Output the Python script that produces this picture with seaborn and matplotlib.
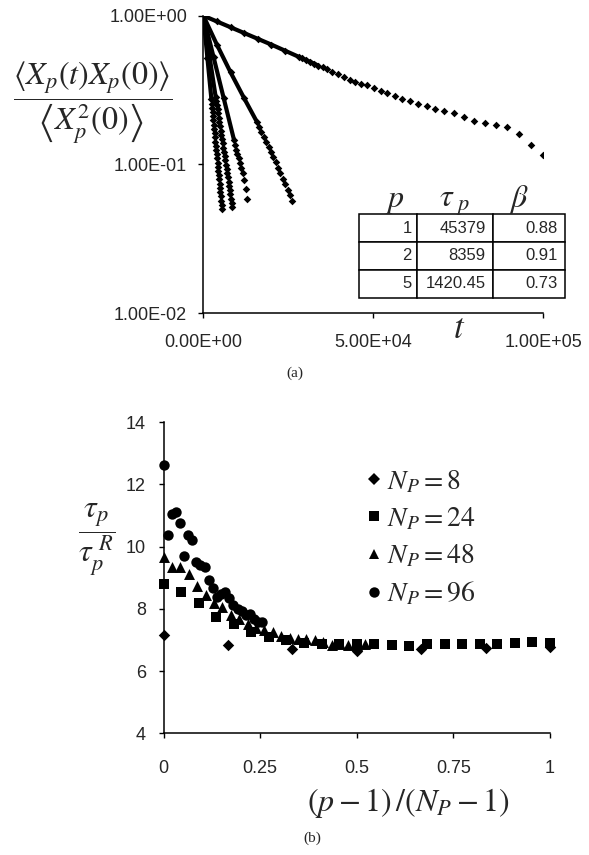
import numpy as np
import pandas as pd
import matplotlib
matplotlib.use("Agg")
import matplotlib.pyplot as plt
from matplotlib.lines import Line2D
import seaborn as sns

# ---------------- panel (a): normalised mode autocorrelation vs time ----------------
# mode p = 1
mode1_t = [0, 4000, 8000, 12000, 16000, 20000, 24000, 28000, 29100, 30200, 31400,
           32600, 33800, 35100, 36400, 37800, 39500, 41300, 43100, 44600, 46300,
           48100, 50200, 52200, 54100, 56400, 58500, 60800, 63200, 65700, 68100,
           70800, 73700, 76600, 79600, 82800, 86100, 89400, 92900, 96500, 100000]
mode1_c = [1.000, 0.9146, 0.8364, 0.7649, 0.6995, 0.6397, 0.5824, 0.5302, 0.5166,
           0.5035, 0.4895, 0.4759, 0.4626, 0.4487, 0.4352, 0.4211, 0.4047, 0.389,
           0.370, 0.358, 0.348, 0.340, 0.325, 0.312, 0.301, 0.288, 0.277, 0.266,
           0.256, 0.246, 0.237, 0.229, 0.222, 0.209, 0.197, 0.189, 0.183, 0.179,
           0.160, 0.135, 0.115]
# mode p = 2
mode2_t = [0, 4000, 8000, 12000, 15700, 16400, 17100, 17800, 18500, 19200, 19900,
           20600, 21300, 22000, 22700, 23400, 24100, 24800, 25400, 26000]
mode2_c = [1.000, 0.638, 0.417, 0.279, 0.1945, 0.1795, 0.1656, 0.1524, 0.1413,
           0.1309, 0.1222, 0.1127, 0.1033, 0.0951, 0.0875, 0.0805, 0.0741, 0.0676,
           0.0624, 0.0571]
# mode p = 3
mode3_t = [0, 3000, 6000, 9000, 9400, 9750, 10050, 10350, 10700, 11150, 11600,
           12000, 12450, 12900]
mode3_c = [1.000, 0.528, 0.2786, 0.1471, 0.1349, 0.1253, 0.1175, 0.1102, 0.1023,
           0.0946, 0.0877, 0.0787, 0.0685, 0.0586]
# mode p = 4
mode4_t = [0, 1800, 3610, 3800, 3990, 4180, 4370, 4560, 4750, 4940, 5130, 5320,
           5510, 5700, 5890, 6080, 6270, 6460, 6650, 6840, 7030, 7220, 7410, 7600,
           7790, 7980, 8170, 8360, 8550]
mode4_c = [1.000, 0.536, 0.2864, 0.2683, 0.2511, 0.2351, 0.2202, 0.2061, 0.1930,
           0.1807, 0.1692, 0.1584, 0.1483, 0.1389, 0.1300, 0.1217, 0.1140, 0.1067,
           0.0999, 0.0936, 0.0876, 0.0820, 0.0768, 0.0719, 0.0673, 0.0630, 0.0590,
           0.0553, 0.0518]
# mode p = 5
mode5_t = [0, 1200, 2380, 2500, 2620, 2740, 2860, 2980, 3100, 3220, 3340, 3460,
           3580, 3700, 3820, 3940, 4060, 4180, 4300, 4420, 4540, 4660, 4780, 4900,
           5020, 5140, 5260, 5380, 5500]
mode5_c = [1.000, 0.521, 0.2741, 0.2567, 0.2405, 0.2253, 0.2111, 0.1977, 0.1852,
           0.1735, 0.1626, 0.1523, 0.1427, 0.1337, 0.1252, 0.1173, 0.1099, 0.1030,
           0.0965, 0.0904, 0.0847, 0.0793, 0.0743, 0.0696, 0.0652, 0.0611, 0.0572,
           0.0536, 0.0502]
# early times are sampled so densely that the points merge into a band
dense_until = {1: 33800, 2: 15700, 3: 9000, 4: 3610, 5: 2380}

a_xticks = [0, 50000, 100000]
a_xticklabels = ["0.00E+00", "5.00E+04", "1.00E+05"]
a_yticks = [0.01, 0.1, 1.0]
a_yticklabels = ["1.00E-02", "1.00E-01", "1.00E+00"]

fit_p = ["1", "2", "5"]
fit_tau = ["45379", "8359", "1420.45"]
fit_beta = ["0.88", "0.91", "0.73"]

# ---------------- panel (b): scaled relaxation times ----------------
x_np8 = [0.0, 0.1667, 0.3333, 0.5, 0.6667, 0.8333, 1.0]
y_np8 = [7.15, 6.83, 6.70, 6.64, 6.70, 6.73, 6.77]
x_np24 = [0.0, 0.0455, 0.0909, 0.1364, 0.1818, 0.2273, 0.2727, 0.3182, 0.3636,
          0.4091, 0.4545, 0.5, 0.5455, 0.5909, 0.6364, 0.6818, 0.7273, 0.7727,
          0.8182, 0.8636, 0.9091, 0.9545, 1.0]
y_np24 = [8.81, 8.54, 8.19, 7.74, 7.52, 7.25, 7.09, 6.99, 6.91, 6.88, 6.86, 6.88,
          6.87, 6.83, 6.81, 6.86, 6.86, 6.88, 6.88, 6.86, 6.89, 6.93, 6.91]
x_np48 = [0.0, 0.0217, 0.0435, 0.0652, 0.0870, 0.1087, 0.1304, 0.1522, 0.1739,
          0.1957, 0.2174, 0.2391, 0.2609, 0.2826, 0.3043, 0.3261, 0.3478, 0.3696,
          0.3913, 0.4130, 0.4348, 0.4565, 0.4783, 0.5, 0.5217]
y_np48 = [9.68, 9.36, 9.36, 9.13, 8.72, 8.46, 8.19, 8.05, 7.82, 7.66, 7.50, 7.39,
          7.31, 7.25, 7.12, 7.07, 7.04, 7.02, 7.00, 6.93, 6.83, 6.86, 6.83, 6.83, 6.86]
x_np96 = [0.0, 0.0106, 0.0213, 0.0319, 0.0426, 0.0532, 0.0638, 0.0745, 0.0851,
          0.0957, 0.1064, 0.1170, 0.1277, 0.1383, 0.1489, 0.1596, 0.1702, 0.1809,
          0.1915, 0.2021, 0.2128, 0.2234, 0.2340, 0.2447, 0.2553]
y_np96 = [12.61, 10.37, 11.04, 11.12, 10.77, 9.70, 10.37, 10.21, 9.49, 9.42, 9.36,
          8.94, 8.67, 8.38, 8.48, 8.53, 8.34, 8.13, 8.00, 7.92, 7.82, 7.84, 7.66,
          7.59, 7.57]

b_xticks = [0, 0.25, 0.5, 0.75, 1.0]
b_xticklabels = ["0", "0.25", "0.5", "0.75", "1"]
b_yticks = [4, 6, 8, 10, 12, 14]

# ---------------------------------------------------------------------------
sns.set_style("ticks")
plt.rcParams["font.family"] = ["Liberation Sans", "DejaVu Sans"]
plt.rcParams["mathtext.fontset"] = "stix"

fig = plt.figure(figsize=(5.89, 8.55), dpi=100)
ax_a = fig.add_axes([0.3452, 0.63357, 0.5772, 0.34807])
ax_b = fig.add_axes([0.2776, 0.14211, 0.6562, 0.36432])

# ---- panel (a)
modes = {1: (mode1_t, mode1_c), 2: (mode2_t, mode2_c), 3: (mode3_t, mode3_c),
         4: (mode4_t, mode4_c), 5: (mode5_t, mode5_c)}
frames = [pd.DataFrame({"t": t, "c": c, "p": p}) for p, (t, c) in modes.items()]
df_a = pd.concat(frames, ignore_index=True)
band = df_a[df_a["t"] <= df_a["p"].map(dense_until)]

sns.lineplot(data=band, x="t", y="c", units="p", estimator=None, sort=False,
             color="black", lw=3.0, legend=False, ax=ax_a)
sns.scatterplot(data=df_a, x="t", y="c", marker="D", color="black", s=15,
                linewidth=0, legend=False, ax=ax_a)

ax_a.set_yscale("log")
ax_a.set_xlim(0, 100000)
ax_a.set_ylim(0.01, 1.0)
ax_a.set_xticks(a_xticks)
ax_a.set_xticklabels(a_xticklabels)
ax_a.set_yticks(a_yticks)
ax_a.set_yticklabels(a_yticklabels)
ax_a.yaxis.set_minor_locator(matplotlib.ticker.NullLocator())
ax_a.tick_params(axis="both", direction="out", length=3.6, width=1.0,
                 labelsize=13, color="black")
ax_a.tick_params(axis="y", pad=8)
ax_a.tick_params(axis="x", pad=11)
ax_a.set_xlabel("")
ax_a.set_ylabel("")
sns.despine(ax=ax_a)
for s in ("left", "bottom"):
    ax_a.spines[s].set_linewidth(1.1)
    ax_a.spines[s].set_color("black")

# fit parameters
cells = [[p, tau, b] for p, tau, b in zip(fit_p, fit_tau, fit_beta)]
tab = ax_a.table(cellText=cells, cellLoc="right",
                 colWidths=[0.2825, 0.3688, 0.3487],
                 bbox=[0.4588, 0.0524, 0.6056, 0.2803])
tab.auto_set_font_size(False)
tab.set_fontsize(12)
for cell in tab.get_celld().values():
    cell.set_linewidth(1.1)
    cell.set_edgecolor("black")
    cell.get_text().set_fontfamily("Liberation Sans")
tab.set_clip_on(False)

hdr_y = 0.357
ax_a.text(0.5638, hdr_y, r"$p$", transform=ax_a.transAxes, ha="center",
          va="baseline", fontsize=23)
ax_a.text(0.740, hdr_y, r"$\tau_{\ p}$", transform=ax_a.transAxes, ha="center",
          va="baseline", fontsize=23)
ax_a.text(0.9285, hdr_y, r"$\beta$", transform=ax_a.transAxes, ha="center",
          va="baseline", fontsize=23)

fig.text(0.158, 0.8795,
         r"$\dfrac{\left\langle X_p(t)X_p(0)\right\rangle}{\left\langle X_p^2(0)\right\rangle}$",
         ha="center", va="center", fontsize=23)
fig.text(459 / 589, 1 - 328 / 855, r"$t$", ha="center", va="center", fontsize=25)
fig.text(295 / 589, 1 - 373 / 855, "(a)", ha="center", va="center",
         fontsize=11, family="Liberation Serif")

# ---- panel (b)
groups = [("8", x_np8, y_np8, "D", 34), ("24", x_np24, y_np24, "s", 52),
          ("48", x_np48, y_np48, "^", 62), ("96", x_np96, y_np96, "o", 56)]
handles = []
for n, xs, ys, m, size in groups:
    dfg = pd.DataFrame({"x": xs, "y": ys})
    sns.scatterplot(data=dfg, x="x", y="y", marker=m, s=size, color="black",
                    linewidth=0, legend=False, ax=ax_b, clip_on=False)
    handles.append(Line2D([], [], ls="none", marker=m, color="black",
                          markersize=np.sqrt(size), markeredgewidth=0,
                          label=r"$N_P = %s$" % n))

ax_b.set_xlim(0, 1)
ax_b.set_ylim(4, 14)
ax_b.set_xticks(b_xticks)
ax_b.set_xticklabels(b_xticklabels)
ax_b.set_yticks(b_yticks)
ax_b.tick_params(axis="both", direction="out", length=3.6, width=1.0,
                 labelsize=13, color="black")
ax_b.tick_params(axis="y", pad=9)
ax_b.tick_params(axis="x", pad=15.5)
ax_b.set_xlabel("")
ax_b.set_ylabel("")
sns.despine(ax=ax_b)
for s in ("left", "bottom"):
    ax_b.spines[s].set_linewidth(1.1)
    ax_b.spines[s].set_color("black")

leg = ax_b.legend(handles=handles, loc="upper left", bbox_to_anchor=(0.52, 0.851),
                  frameon=False, fontsize=20, handlelength=0.7, handletextpad=0.1,
                  labelspacing=0.38, borderpad=0, borderaxespad=0)

fig.text(97 / 589, 1 - 540 / 855, r"$\dfrac{\tau_p}{\tau_p^{\ R}}$",
         ha="center", va="center", fontsize=23)
fig.text(408 / 589, 1 - 803 / 855, r"$(p-1)\,/(N_P-1)$", ha="center",
         va="center", fontsize=23)
fig.text(312 / 589, 1 - 838 / 855, "(b)", ha="center", va="center",
         fontsize=11, family="Liberation Serif")

fig.savefig("out.png", dpi=100)
